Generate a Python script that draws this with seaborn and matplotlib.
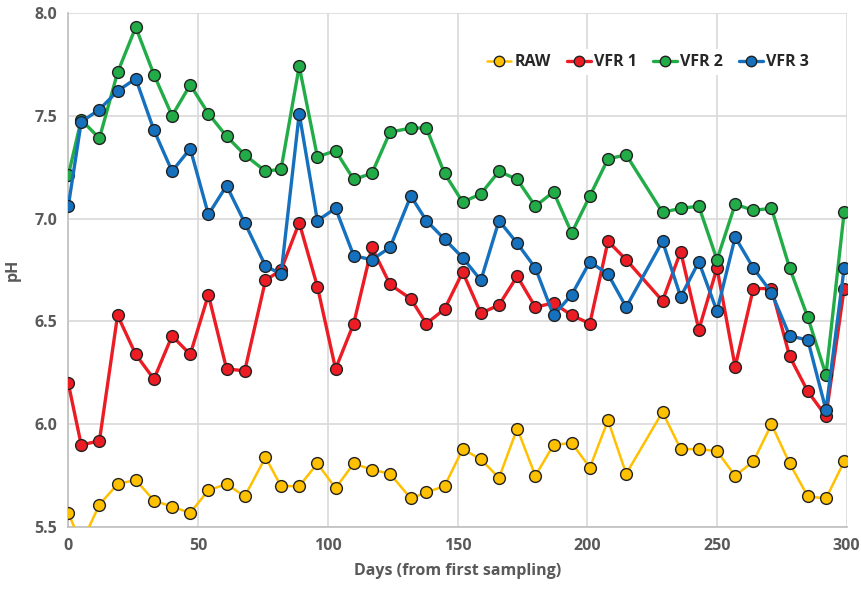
import matplotlib
matplotlib.use("Agg")
import matplotlib.pyplot as plt
import seaborn as sns
import pandas as pd

days = [0, 5, 12, 19, 26, 33, 40, 47, 54, 61, 68, 76, 82, 89, 96, 103, 110, 117, 124, 132,
        138, 145, 152, 159, 166, 173, 180, 187, 194, 201, 208, 215, 229, 236, 243, 250, 257,
        264, 271, 278, 285, 292, 299]

raw = [5.57, 5.42, 5.61, 5.71, 5.73, 5.63, 5.60, 5.57, 5.68, 5.71, 5.65, 5.84, 5.70, 5.70,
       5.81, 5.69, 5.81, 5.78, 5.76, 5.64, 5.67, 5.70, 5.88, 5.83, 5.74, 5.98, 5.75, 5.90,
       5.91, 5.79, 6.02, 5.76, 6.06, 5.88, 5.88, 5.87, 5.75, 5.82, 6.00, 5.81, 5.65, 5.64, 5.82]

vfr1 = [6.20, 5.90, 5.92, 6.53, 6.34, 6.22, 6.43, 6.34, 6.63, 6.27, 6.26, 6.70, 6.75, 6.98,
        6.67, 6.27, 6.49, 6.86, 6.68, 6.61, 6.49, 6.56, 6.74, 6.54, 6.58, 6.72, 6.57, 6.59,
        6.53, 6.49, 6.89, 6.80, 6.60, 6.84, 6.46, 6.76, 6.28, 6.66, 6.66, 6.33, 6.16, 6.04, 6.66]

vfr2 = [7.21, 7.48, 7.39, 7.71, 7.93, 7.70, 7.50, 7.65, 7.51, 7.40, 7.31, 7.23, 7.24, 7.74,
        7.30, 7.33, 7.19, 7.22, 7.42, 7.44, 7.44, 7.22, 7.08, 7.12, 7.23, 7.19, 7.06, 7.13,
        6.93, 7.11, 7.29, 7.31, 7.03, 7.05, 7.06, 6.80, 7.07, 7.04, 7.05, 6.76, 6.52, 6.24, 7.03]

vfr3 = [7.06, 7.47, 7.53, 7.62, 7.68, 7.43, 7.23, 7.34, 7.02, 7.16, 6.98, 6.77, 6.73, 7.51,
        6.99, 7.05, 6.82, 6.80, 6.86, 7.11, 6.99, 6.90, 6.81, 6.70, 6.99, 6.88, 6.76, 6.53,
        6.63, 6.79, 6.73, 6.57, 6.89, 6.62, 6.79, 6.55, 6.91, 6.76, 6.64, 6.43, 6.41, 6.07, 6.76]

series_names = ["RAW", "VFR 1", "VFR 2", "VFR 3"]
series_values = [raw, vfr1, vfr2, vfr3]
colors = ["#FFC000", "#EC1C24", "#22AC48", "#1570BE"]
widths = [1.8, 2.4, 2.4, 2.4]

sns.set_theme(style="whitegrid")
plt.rcParams["font.family"] = ["Open Sans", "DejaVu Sans"]

fig = plt.figure(figsize=(8.62, 5.90), dpi=100)
ax = fig.add_axes([0.0792, 0.1063, 0.9031, 0.872])

for name, vals, col, lw in zip(series_names, series_values, colors, widths):
    df = pd.DataFrame({"Days": days, "pH": vals})
    sns.lineplot(data=df, x="Days", y="pH", ax=ax, color=col, linewidth=lw,
                 marker="o", markersize=8.5, markeredgecolor="#222222",
                 markeredgewidth=1.0, label=name, zorder=3)

ax.set_xlim(0, 300)
ax.set_ylim(5.5, 8.0)
ax.set_xticks([0, 50, 100, 150, 200, 250, 300])
ax.set_yticks([5.5, 6.0, 6.5, 7.0, 7.5, 8.0])
ax.set_yticklabels(["5.5", "6.0", "6.5", "7.0", "7.5", "8.0"])
ax.grid(True, color="#d9d9d9", linewidth=1.2)
for s in ["top", "right"]:
    ax.spines[s].set_visible(False)
for s in ["left", "bottom"]:
    ax.spines[s].set_color("#bfbfbf")
    ax.spines[s].set_linewidth(1.2)

ax.tick_params(axis="both", labelsize=11.5, colors="#595959", length=0, pad=8)
for lab in ax.get_xticklabels() + ax.get_yticklabels():
    lab.set_fontweight("bold")

ax.set_xlabel("Days (from first sampling)", fontsize=11.5, fontweight="bold",
              color="#595959", labelpad=6)
ax.set_ylabel("pH", fontsize=11.5, fontweight="bold", color="#595959", labelpad=10)

leg = ax.legend(loc="center", bbox_to_anchor=(0.745, 0.904), ncol=4, frameon=True,
                facecolor="white", edgecolor="none", framealpha=1.0,
                handlelength=1.5, handletextpad=0.2, columnspacing=1.0,
                borderpad=0.3, prop={"weight": "bold", "size": 11.5})
for h in leg.legend_handles:
    h.set_markersize(7.5)
leg.set_zorder(5)

fig.savefig("out.png", dpi=100)
